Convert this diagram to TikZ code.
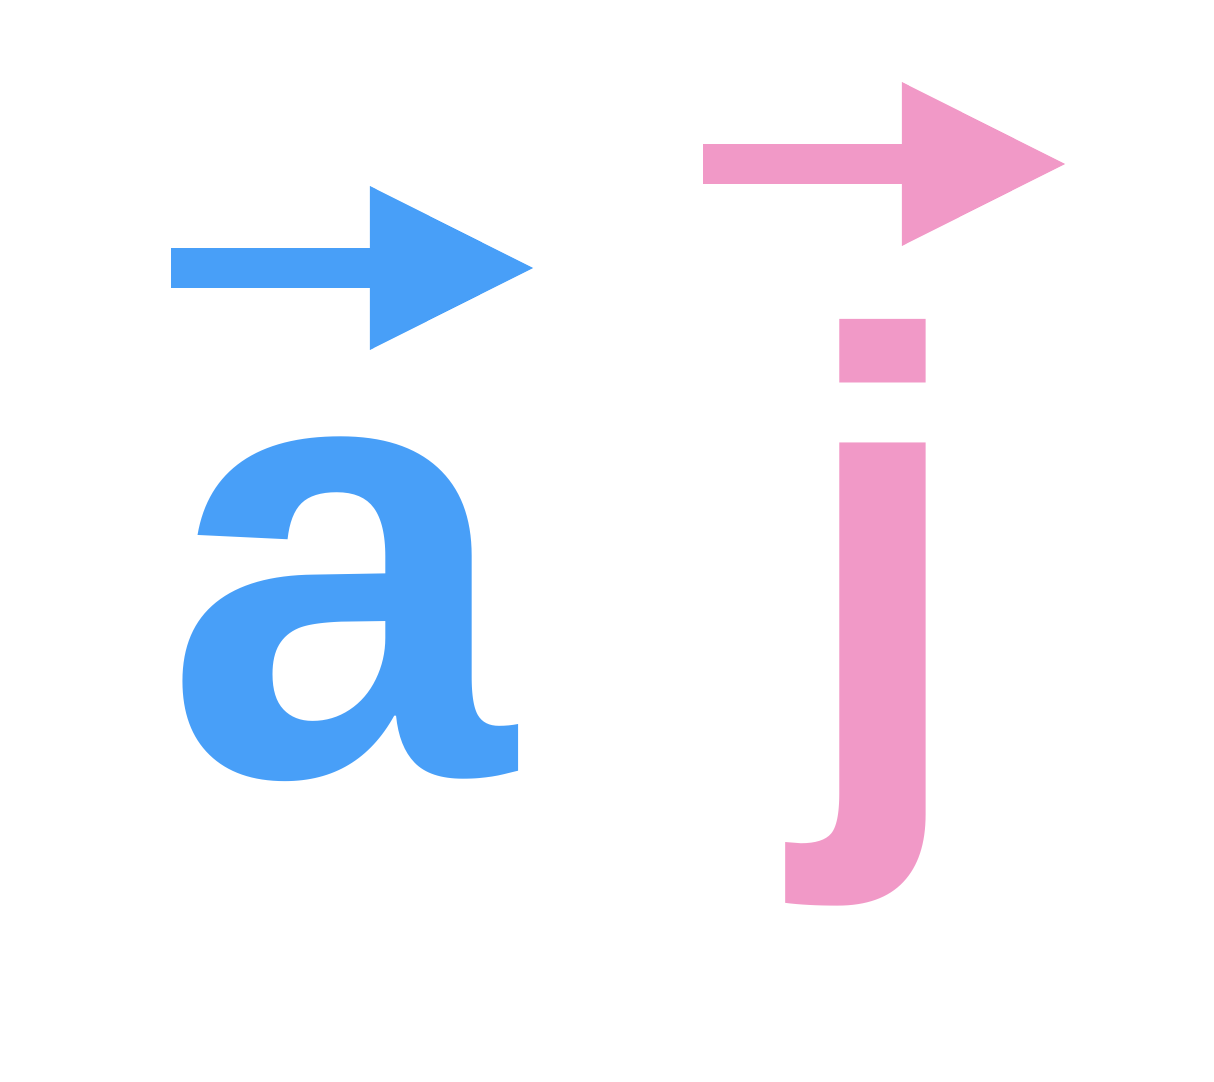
\documentclass[tikz,border=0pt]{standalone}
\usepackage{fontspec}
\setmainfont{Liberation Sans}
\usetikzlibrary{arrows.meta}
\definecolor{vecblue}{HTML}{489FF8}
\definecolor{vecpink}{HTML}{F199C7}
\tikzset{
  letter/.style={inner sep=0pt, anchor=base, font=\fontsize{179}{179}\selectfont\bfseries},
  vecarr/.style={line width=4mm, -{Triangle[length=16.7mm, width=15.1mm]}},
}
\begin{document}
\begin{tikzpicture}[x=0.01cm, y=-0.01cm]
\useasboundingbox (0,0) rectangle (1214,1082);
% letters
\node[letter, text=vecblue] (la) at (340,776) {a};
\node[letter, text=vecpink] (lj) at (883,776) {j};
% vector arrows
\coordinate (as) at (171,268); \coordinate (ae) at (537,268);
\coordinate (js) at (703,164); \coordinate (je) at (1069,164);
\draw[vecarr, vecblue] (as) -- (ae);
\draw[vecarr, vecpink] (js) -- (je);
\end{tikzpicture}
\end{document}
